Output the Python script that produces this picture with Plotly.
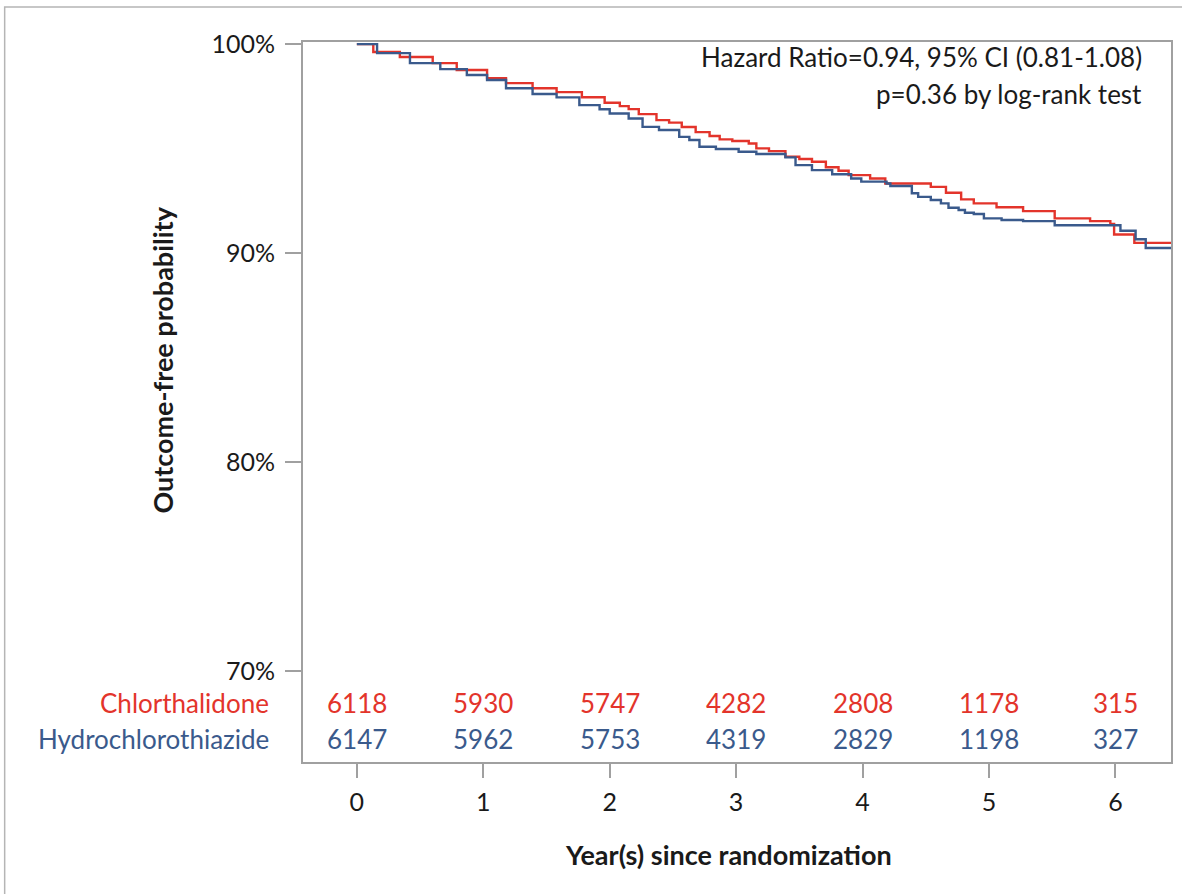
import plotly.graph_objects as go

# Kaplan-Meier curves (years, outcome-free %)
chl_time = [0, 0.13, 0.34, 0.60, 0.79, 1.03, 1.18, 1.39, 1.58, 1.78, 1.96, 2.08, 2.15, 2.23,
            2.37, 2.47, 2.57, 2.68, 2.79, 2.87, 2.97, 3.10, 3.16, 3.26, 3.39, 3.50, 3.60,
            3.71, 3.81, 3.89, 4.06, 4.18, 4.54, 4.66, 4.78, 4.88, 5.06, 5.27, 5.52, 5.80,
            5.96, 5.99, 6.15, 6.44]
chl_surv = [100, 99.62, 99.38, 99.09, 98.76, 98.37, 98.13, 97.89, 97.70, 97.46, 97.19, 97.03,
            96.89, 96.65, 96.36, 96.24, 96.03, 95.79, 95.60, 95.44, 95.36, 95.24, 95.01, 94.88,
            94.61, 94.50, 94.37, 94.11, 93.94, 93.73, 93.57, 93.33, 93.17, 92.89, 92.57, 92.38,
            92.19, 92.01, 91.66, 91.53, 91.39, 90.89, 90.49, 90.49]

hct_time = [0, 0.16, 0.42, 0.66, 0.87, 1.03, 1.18, 1.39, 1.58, 1.76, 1.92, 2.00, 2.15, 2.26,
            2.39, 2.55, 2.63, 2.71, 2.84, 3.02, 3.16, 3.39, 3.47, 3.60, 3.76, 3.91, 3.99,
            4.19, 4.22, 4.39, 4.44, 4.54, 4.62, 4.68, 4.76, 4.81, 4.88, 4.96, 5.10, 5.27,
            5.52, 6.04, 6.16, 6.24, 6.44]
hct_surv = [100, 99.57, 99.09, 98.80, 98.52, 98.28, 97.89, 97.61, 97.45, 97.08, 96.88, 96.68,
            96.44, 96.04, 95.89, 95.56, 95.41, 95.09, 94.98, 94.85, 94.74, 94.58, 94.21, 93.97,
            93.77, 93.57, 93.42, 93.33, 93.21, 92.86, 92.69, 92.54, 92.38, 92.17, 92.06, 91.93,
            91.87, 91.66, 91.58, 91.53, 91.33, 91.07, 90.66, 90.24, 90.24]

# Numbers at risk
risk_years = [0, 1, 2, 3, 4, 5, 6]
chl_risk = [6118, 5930, 5747, 4282, 2808, 1178, 315]
hct_risk = [6147, 5962, 5753, 4319, 2829, 1198, 327]

x_ticks = [0, 1, 2, 3, 4, 5, 6]
y_ticks = [70, 80, 90, 100]
y_ticktext = ["70%", "80%", "90%", "100%"]

RED = "#e3342b"
BLUE = "#3a5a8c"
GRID = "#a0a0a0"
TXT = "#1a1a1a"
FONT = "Lato, 'Open Sans', sans-serif"

fig = go.Figure()
fig.add_trace(go.Scatter(x=chl_time, y=chl_surv, mode="lines", line_shape="hv",
                         line=dict(color=RED, width=2.4), name="Chlorthalidone"))
fig.add_trace(go.Scatter(x=hct_time, y=hct_surv, mode="lines", line_shape="hv",
                         line=dict(color=BLUE, width=2.4), name="Hydrochlorothiazide"))

ann = []
# at-risk table
for yr, c, h in zip(risk_years, chl_risk, hct_risk):
    ann.append(dict(x=yr, y=0.082, xref="x", yref="paper", text=str(c), showarrow=False,
                    font=dict(color=RED, size=26, family=FONT), xanchor="center", yanchor="middle"))
    ann.append(dict(x=yr, y=0.032, xref="x", yref="paper", text=str(h), showarrow=False,
                    font=dict(color=BLUE, size=26, family=FONT), xanchor="center", yanchor="middle"))
ann.append(dict(x=-0.037, y=0.082, xref="paper", yref="paper", text="Chlorthalidone",
                showarrow=False, xanchor="right", yanchor="middle",
                font=dict(color=RED, size=26, family=FONT)))
ann.append(dict(x=-0.037, y=0.032, xref="paper", yref="paper", text="Hydrochlorothiazide",
                showarrow=False, xanchor="right", yanchor="middle",
                font=dict(color=BLUE, size=26, family=FONT)))
# stats
ann.append(dict(x=0.969, y=0.979, xref="paper", yref="paper",
                text="Hazard Ratio=0.94, 95% CI (0.81-1.08)", showarrow=False,
                xanchor="right", yanchor="middle", font=dict(color=TXT, size=26, family=FONT)))
ann.append(dict(x=0.969, y=0.928, xref="paper", yref="paper",
                text="p=0.36 by log-rank test", showarrow=False,
                xanchor="right", yanchor="middle", font=dict(color=TXT, size=26, family=FONT)))
# axis titles
ann.append(dict(x=0.49, y=-0.129, xref="paper", yref="paper",
                text="<b>Year(s) since randomization</b>", showarrow=False,
                xanchor="center", yanchor="middle", font=dict(color=TXT, size=27, family=FONT)))
ann.append(dict(x=-0.162, y=0.558, xref="paper", yref="paper",
                text="<b>Outcome-free probability</b>", showarrow=False, textangle=-90,
                xanchor="center", yanchor="middle", font=dict(color=TXT, size=27, family=FONT)))

fig.update_layout(
    width=1182, height=894,
    margin=dict(l=303, r=9, t=42, b=132),
    paper_bgcolor="white", plot_bgcolor="white",
    showlegend=False,
    annotations=ann,
    font=dict(family=FONT, color=TXT),
    shapes=[dict(type="rect", xref="paper", yref="paper", x0=-0.3437, x1=1.05,
                 y0=-0.25, y1=1.0486, line=dict(color="#b5b5b5", width=1.5))],
)
fig.update_xaxes(range=[-0.426, 6.44], tickvals=x_ticks, ticks="outside", ticklen=14,
                 tickcolor=GRID, tickwidth=1.5, showline=True, linecolor=GRID, linewidth=2,
                 mirror=True, showgrid=False, zeroline=False, ticklabelstandoff=3,
                 tickfont=dict(size=25, color=TXT, family=FONT))
fig.update_yaxes(range=[65.65, 100.1], tickvals=y_ticks, ticktext=y_ticktext, ticks="outside",
                 ticklen=16, tickcolor=GRID, tickwidth=1.5, showline=True, linecolor=GRID,
                 linewidth=2, mirror=True, showgrid=False, zeroline=False, ticklabelstandoff=5,
                 tickfont=dict(size=25, color=TXT, family=FONT))

fig.write_html("out.html")
